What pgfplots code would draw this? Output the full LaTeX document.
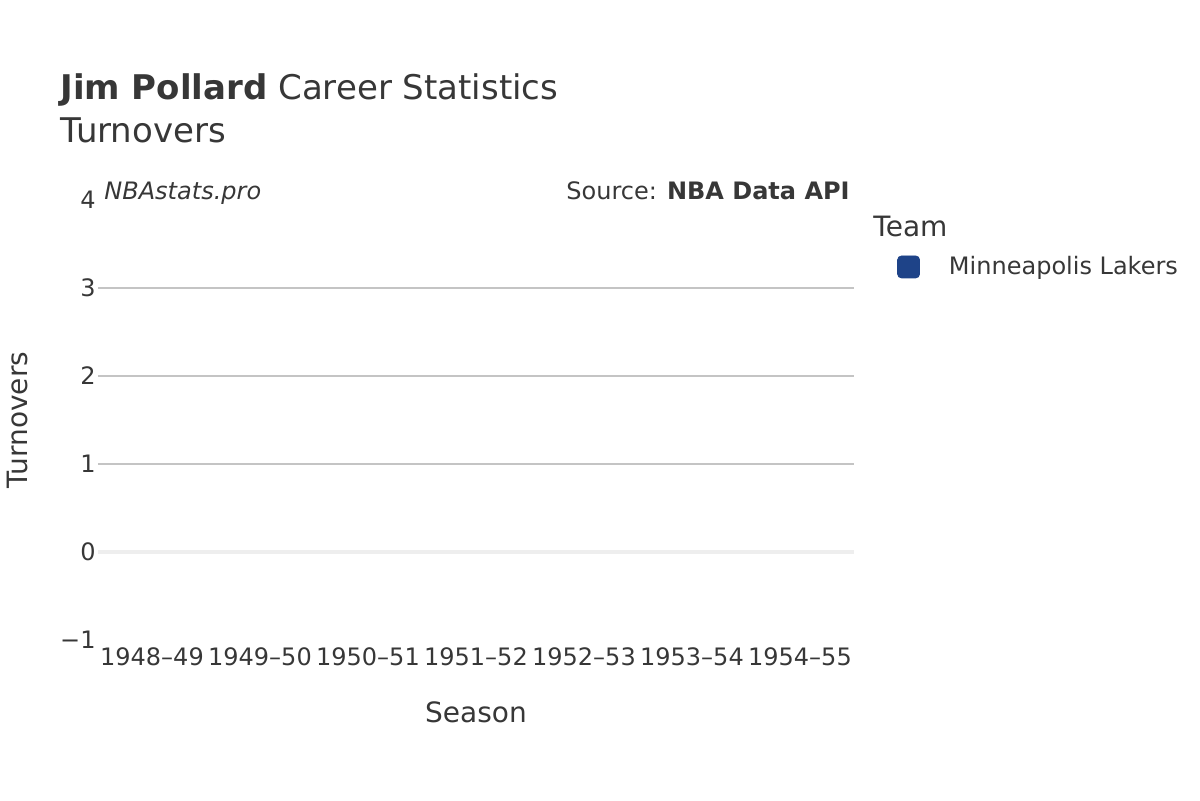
\documentclass[border=0pt]{standalone}
\usepackage{fontspec}
\setmainfont{DejaVu Sans}
\usepackage{pgfplots}
\pgfplotsset{compat=1.18}
\definecolor{txt}{HTML}{373737}
\definecolor{gridc}{HTML}{C4C4C4}
\definecolor{zeroc}{HTML}{EEEEEE}
\definecolor{lakers}{HTML}{1E4388}
\begin{document}
\begin{tikzpicture}
\useasboundingbox (0,0) rectangle (600pt,400pt);
\begin{axis}[
    at={(49pt,80pt)}, anchor=south west,
    scale only axis, width=378pt, height=220pt,
    xmin=-0.5, xmax=6.5, ymin=-1, ymax=4,
    axis line style={draw=none}, tick style={draw=none},
    xtick={0,...,6},
    xticklabels={1948--49,1949--50,1950--51,1951--52,1952--53,1953--54,1954--55},
    ytick={-1,...,4},
    yticklabels={−1,0,1,2,3,4},
    extra y ticks={1,2,3}, extra y tick labels={},
    extra y tick style={grid=major, major grid style={gridc, line width=1pt}},
    ticklabel style={font=\fontsize{12}{14}\selectfont, text=txt},
    xticklabel style={anchor=north, inner sep=0pt, yshift=-3.5pt},
    yticklabel style={anchor=east, inner sep=0pt, xshift=-1pt},
    xlabel={Season}, ylabel={Turnovers},
    label style={font=\fontsize{14}{16}\selectfont, text=txt},
    xlabel style={at={(axis description cs:0.5,-0.1636)}, anchor=center},
    ylabel style={at={(axis description cs:-0.107,0.5)}, anchor=center},
    legend style={at={(axis description cs:1.0566,0.882)}, anchor=north west,
        draw=none, fill=none, font=\fontsize{12}{14}\selectfont, text=txt,
        inner sep=0pt, row sep=0pt},
    legend cell align=left,
    legend image code/.code={
        \fill[lakers, rounded corners=2pt] (0pt,-5.5pt) rectangle (11pt,5.5pt);},
]
\draw[zeroc, line width=2pt] (axis cs:-0.5,0) -- (axis cs:6.5,0);
\addlegendimage{lakers}
\addlegendentry{\hspace{12.5pt}Minneapolis Lakers}
\end{axis}
\node[anchor=base west, inner sep=0pt, text=txt, font=\fontsize{17}{20}\selectfont] at (30pt,350pt) {\textbf{Jim Pollard} Career Statistics};
\node[anchor=base west, inner sep=0pt, text=txt, font=\fontsize{17}{20}\selectfont] at (30pt,328.5pt) {Turnovers};
\node[anchor=base west, inner sep=0pt, text=txt, font=\fontsize{12}{14}\selectfont\itshape] at (52pt,300.5pt) {NBAstats.pro};
\node[anchor=base east, inner sep=0pt, text=txt, font=\fontsize{12}{14}\selectfont] at (425pt,300.5pt) {Source: \textbf{NBA Data API}};
\node[anchor=base west, inner sep=0pt, text=txt, font=\fontsize{14}{16}\selectfont] at (436.5pt,282pt) {Team};
\end{tikzpicture}
\end{document}
